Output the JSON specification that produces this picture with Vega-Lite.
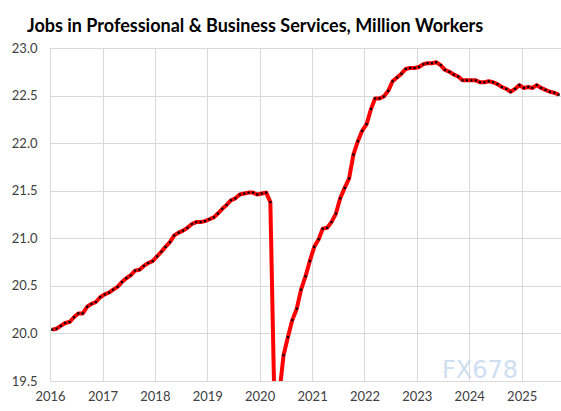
{
  "$schema": "https://vega.github.io/schema/vega-lite/v6.json",
  "width": 511,
  "height": 333,
  "autosize": "none",
  "padding": {"left": 50, "top": 48, "right": 0, "bottom": 30},
  "background": "white",
  "title": {
    "text": "Jobs in Professional & Business Services, Million Workers",
    "anchor": "start",
    "frame": "group",
    "dx": -23,
    "offset": 6,
    "font": "Lato",
    "fontSize": 18,
    "fontWeight": "bold",
    "color": "#000000"
  },
  "config": {
    "view": {"stroke": null},
    "axis": {
      "labelFont": "Lato",
      "labelFontSize": 13,
      "labelColor": "#404040",
      "gridColor": "#d9d9d9",
      "gridWidth": 1,
      "ticks": false,
      "domain": false,
      "title": null
    }
  },
  "data": {
    "values": [
      {"date": "2016-01-16", "v": 20.04}, {"date": "2016-02-16", "v": 20.05}, {"date": "2016-03-16", "v": 20.08}, {"date": "2016-04-16", "v": 20.11}, {"date": "2016-05-16", "v": 20.12}, {"date": "2016-06-16", "v": 20.17}, {"date": "2016-07-16", "v": 20.21}, {"date": "2016-08-16", "v": 20.21}, {"date": "2016-09-16", "v": 20.28}, {"date": "2016-10-16", "v": 20.31}, {"date": "2016-11-16", "v": 20.33}, {"date": "2016-12-16", "v": 20.38},
      {"date": "2017-01-16", "v": 20.41}, {"date": "2017-02-16", "v": 20.43}, {"date": "2017-03-16", "v": 20.46}, {"date": "2017-04-16", "v": 20.49}, {"date": "2017-05-16", "v": 20.54}, {"date": "2017-06-16", "v": 20.58}, {"date": "2017-07-16", "v": 20.61}, {"date": "2017-08-16", "v": 20.66}, {"date": "2017-09-16", "v": 20.67}, {"date": "2017-10-16", "v": 20.71}, {"date": "2017-11-16", "v": 20.74}, {"date": "2017-12-16", "v": 20.76},
      {"date": "2018-01-16", "v": 20.81}, {"date": "2018-02-16", "v": 20.86}, {"date": "2018-03-16", "v": 20.91}, {"date": "2018-04-16", "v": 20.96}, {"date": "2018-05-16", "v": 21.03}, {"date": "2018-06-16", "v": 21.06}, {"date": "2018-07-16", "v": 21.08}, {"date": "2018-08-16", "v": 21.11}, {"date": "2018-09-16", "v": 21.15}, {"date": "2018-10-16", "v": 21.17}, {"date": "2018-11-16", "v": 21.17}, {"date": "2018-12-16", "v": 21.18},
      {"date": "2019-01-16", "v": 21.20}, {"date": "2019-02-16", "v": 21.22}, {"date": "2019-03-16", "v": 21.26}, {"date": "2019-04-16", "v": 21.31}, {"date": "2019-05-16", "v": 21.35}, {"date": "2019-06-16", "v": 21.40}, {"date": "2019-07-16", "v": 21.42}, {"date": "2019-08-16", "v": 21.46}, {"date": "2019-09-16", "v": 21.47}, {"date": "2019-10-16", "v": 21.48}, {"date": "2019-11-16", "v": 21.48}, {"date": "2019-12-16", "v": 21.46},
      {"date": "2020-01-16", "v": 21.47}, {"date": "2020-02-16", "v": 21.48}, {"date": "2020-03-16", "v": 21.38}, {"date": "2020-04-16", "v": 19.05}, {"date": "2020-05-16", "v": 19.35}, {"date": "2020-06-16", "v": 19.77}, {"date": "2020-07-16", "v": 19.96}, {"date": "2020-08-16", "v": 20.14}, {"date": "2020-09-16", "v": 20.26}, {"date": "2020-10-16", "v": 20.46}, {"date": "2020-11-16", "v": 20.60}, {"date": "2020-12-16", "v": 20.76},
      {"date": "2021-01-16", "v": 20.91}, {"date": "2021-02-16", "v": 20.99}, {"date": "2021-03-16", "v": 21.10}, {"date": "2021-04-16", "v": 21.11}, {"date": "2021-05-16", "v": 21.17}, {"date": "2021-06-16", "v": 21.26}, {"date": "2021-07-16", "v": 21.42}, {"date": "2021-08-16", "v": 21.53}, {"date": "2021-09-16", "v": 21.63}, {"date": "2021-10-16", "v": 21.88}, {"date": "2021-11-16", "v": 22.02}, {"date": "2021-12-16", "v": 22.13},
      {"date": "2022-01-16", "v": 22.20}, {"date": "2022-02-16", "v": 22.36}, {"date": "2022-03-16", "v": 22.47}, {"date": "2022-04-16", "v": 22.47}, {"date": "2022-05-16", "v": 22.49}, {"date": "2022-06-16", "v": 22.55}, {"date": "2022-07-16", "v": 22.65}, {"date": "2022-08-16", "v": 22.69}, {"date": "2022-09-16", "v": 22.73}, {"date": "2022-10-16", "v": 22.78}, {"date": "2022-11-16", "v": 22.79}, {"date": "2022-12-16", "v": 22.79},
      {"date": "2023-01-16", "v": 22.80}, {"date": "2023-02-16", "v": 22.83}, {"date": "2023-03-16", "v": 22.84}, {"date": "2023-04-16", "v": 22.84}, {"date": "2023-05-16", "v": 22.85}, {"date": "2023-06-16", "v": 22.82}, {"date": "2023-07-16", "v": 22.77}, {"date": "2023-08-16", "v": 22.75}, {"date": "2023-09-16", "v": 22.72}, {"date": "2023-10-16", "v": 22.70}, {"date": "2023-11-16", "v": 22.66}, {"date": "2023-12-16", "v": 22.66},
      {"date": "2024-01-16", "v": 22.66}, {"date": "2024-02-16", "v": 22.66}, {"date": "2024-03-16", "v": 22.64}, {"date": "2024-04-16", "v": 22.64}, {"date": "2024-05-16", "v": 22.65}, {"date": "2024-06-16", "v": 22.64}, {"date": "2024-07-16", "v": 22.62}, {"date": "2024-08-16", "v": 22.59}, {"date": "2024-09-16", "v": 22.57}, {"date": "2024-10-16", "v": 22.54}, {"date": "2024-11-16", "v": 22.57}, {"date": "2024-12-16", "v": 22.61},
      {"date": "2025-01-16", "v": 22.58}, {"date": "2025-02-16", "v": 22.59}, {"date": "2025-03-16", "v": 22.58}, {"date": "2025-04-16", "v": 22.61}, {"date": "2025-05-16", "v": 22.58}, {"date": "2025-06-16", "v": 22.56}, {"date": "2025-07-16", "v": 22.54}, {"date": "2025-08-16", "v": 22.53}, {"date": "2025-09-16", "v": 22.51}
    ]
  },
  "encoding": {
    "x": {
      "field": "date",
      "type": "temporal",
      "scale": {"domain": ["2016-01-01", "2025-10-02"], "nice": false},
      "axis": {
        "format": "%Y",
        "tickCount": {"interval": "year", "step": 1},
        "labelFlush": false,
        "labelOverlap": false,
        "labelPadding": 9,
        "grid": true
      }
    },
    "y": {
      "field": "v",
      "type": "quantitative",
      "scale": {"domain": [19.5, 23], "nice": false, "zero": false},
      "axis": {
        "values": [19.5, 20, 20.5, 21, 21.5, 22, 22.5, 23],
        "format": ".1f",
        "labelPadding": 13,
        "grid": true
      }
    }
  },
  "layer": [
    {
      "mark": {"type": "line", "color": "#ff0000", "strokeWidth": 4, "clip": true, "strokeJoin": "round"}
    },
    {
      "mark": {"type": "point", "shape": "square", "filled": true, "color": "#000000", "size": 5, "opacity": 1, "clip": true}
    },
    {
      "data": {"values": [{"label": "FX678", "wx": "2024-03-16", "wy": 19.6}]},
      "mark": {"type": "text", "font": "DejaVu Sans", "fontSize": 24, "color": "#c9dcf0", "opacity": 0.9, "align": "center", "baseline": "middle", "clip": false},
      "encoding": {
        "x": {"field": "wx", "type": "temporal"},
        "y": {"field": "wy", "type": "quantitative"},
        "text": {"field": "label", "type": "nominal"}
      }
    }
  ]
}
